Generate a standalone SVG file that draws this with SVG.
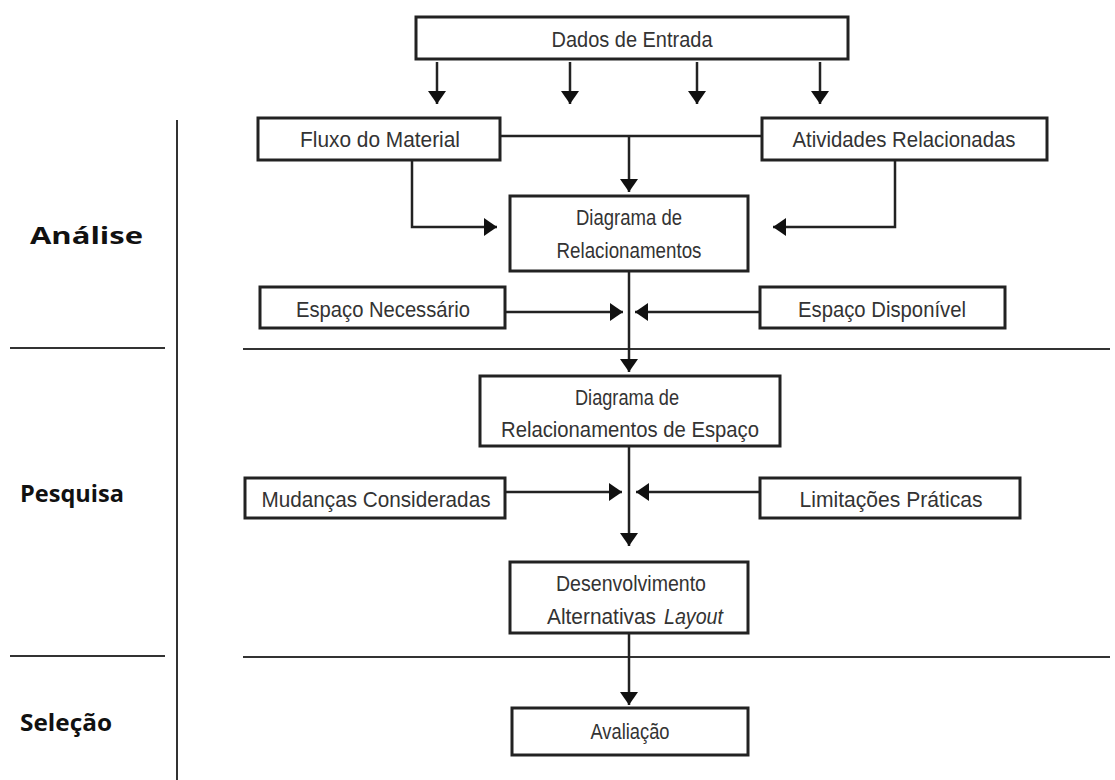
<svg xmlns="http://www.w3.org/2000/svg" width="1115" height="780" viewBox="0 0 1115 780">
<style>
.box{fill:#fff;stroke:#222;stroke-width:3}
.t{font-family:"Liberation Sans",Arial,sans-serif;font-size:22px;fill:#333;text-anchor:middle}
.s{text-anchor:start}
.c{fill:none;stroke:#222;stroke-width:2.5}
.sep{fill:none;stroke:#333;stroke-width:2}
.lab{font-family:"Open Sans","DejaVu Sans",sans-serif;font-weight:bold;font-size:23px;fill:#111}
</style>
<defs>
<marker id="ah" markerUnits="userSpaceOnUse" markerWidth="20" markerHeight="20" viewBox="0 0 20 20" refX="13" refY="10" orient="auto">
<path d="M0,1 L13,10 L0,19 Z" fill="#111"/>
</marker>
</defs>
<rect width="1115" height="780" fill="#fff"/>
<g id="phases">
<line class="sep" x1="177" y1="120" x2="177" y2="780"/>
<line class="sep" x1="10" y1="348" x2="165" y2="348"/>
<line class="sep" x1="243" y1="349" x2="1110" y2="349"/>
<line class="sep" x1="10" y1="656" x2="165" y2="656"/>
<line class="sep" x1="243" y1="657" x2="1110" y2="657"/>
<text class="lab" x="30" y="244" textLength="113" lengthAdjust="spacingAndGlyphs">Análise</text>
<text class="lab" x="20" y="502" textLength="104" lengthAdjust="spacingAndGlyphs">Pesquisa</text>
<text class="lab" x="20" y="731" textLength="92" lengthAdjust="spacingAndGlyphs">Seleção</text>
</g>
<g id="connectors">
<line class="c" x1="437" y1="62" x2="437" y2="104" marker-end="url(#ah)"/>
<line class="c" x1="570" y1="62" x2="570" y2="104" marker-end="url(#ah)"/>
<line class="c" x1="697" y1="62" x2="697" y2="104" marker-end="url(#ah)"/>
<line class="c" x1="820" y1="62" x2="820" y2="104" marker-end="url(#ah)"/>
<line class="c" x1="500" y1="136" x2="762" y2="136"/>
<line class="c" x1="629" y1="136" x2="629" y2="192" marker-end="url(#ah)"/>
<polyline class="c" points="412,160 412,227 497,227" marker-end="url(#ah)"/>
<polyline class="c" points="895,160 895,227 773,227" marker-end="url(#ah)"/>
<line class="c" x1="629" y1="271" x2="629" y2="372" marker-end="url(#ah)"/>
<line class="c" x1="505" y1="312" x2="623" y2="312" marker-end="url(#ah)"/>
<line class="c" x1="760" y1="312" x2="635" y2="312" marker-end="url(#ah)"/>
<line class="c" x1="629" y1="446" x2="629" y2="546" marker-end="url(#ah)"/>
<line class="c" x1="505" y1="492" x2="622" y2="492" marker-end="url(#ah)"/>
<line class="c" x1="760" y1="492" x2="636" y2="492" marker-end="url(#ah)"/>
<line class="c" x1="629" y1="633" x2="629" y2="705" marker-end="url(#ah)"/>
</g>
<g id="dados"><rect class="box" x="416" y="17" width="432" height="42"/><text class="t" x="632" y="47" textLength="161" lengthAdjust="spacingAndGlyphs">Dados de Entrada</text></g>
<g id="fluxo"><rect class="box" x="258" y="118" width="242" height="42"/><text class="t" x="380" y="147" textLength="160" lengthAdjust="spacingAndGlyphs">Fluxo do Material</text></g>
<g id="atividades"><rect class="box" x="762" y="118" width="285" height="42"/><text class="t" x="904" y="147" textLength="223" lengthAdjust="spacingAndGlyphs">Atividades Relacionadas</text></g>
<g id="diagrama-rel"><rect class="box" x="510" y="196" width="238" height="75"/><text class="t" x="629" y="225" textLength="106" lengthAdjust="spacingAndGlyphs">Diagrama de</text><text class="t" x="629" y="258" textLength="145" lengthAdjust="spacingAndGlyphs">Relacionamentos</text></g>
<g id="esp-nec"><rect class="box" x="260" y="287" width="245" height="41"/><text class="t" x="383" y="317" textLength="174" lengthAdjust="spacingAndGlyphs">Espaço Necessário</text></g>
<g id="esp-disp"><rect class="box" x="760" y="287" width="245" height="41"/><text class="t" x="882" y="317" textLength="168" lengthAdjust="spacingAndGlyphs">Espaço Disponível</text></g>
<g id="diagrama-esp"><rect class="box" x="480" y="376" width="300" height="70"/><text class="t" x="627" y="405" textLength="104" lengthAdjust="spacingAndGlyphs">Diagrama de</text><text class="t" x="630" y="437" textLength="258" lengthAdjust="spacingAndGlyphs">Relacionamentos de Espaço</text></g>
<g id="mudancas"><rect class="box" x="245" y="478" width="260" height="40"/><text class="t" x="376" y="507" textLength="229" lengthAdjust="spacingAndGlyphs">Mudanças Consideradas</text></g>
<g id="limitacoes"><rect class="box" x="760" y="478" width="260" height="40"/><text class="t" x="891" y="507" textLength="183" lengthAdjust="spacingAndGlyphs">Limitações Práticas</text></g>
<g id="desenvolvimento"><rect class="box" x="510" y="562" width="238" height="71"/><text class="t" x="631" y="591" textLength="150" lengthAdjust="spacingAndGlyphs">Desenvolvimento</text><text class="t s" x="547" y="624" textLength="109" lengthAdjust="spacingAndGlyphs">Alternativas</text><text class="t s" x="664" y="624" font-style="italic" textLength="59" lengthAdjust="spacingAndGlyphs">Layout</text></g>
<g id="avaliacao"><rect class="box" x="512" y="708" width="236" height="47"/><text class="t" x="630" y="739" textLength="79" lengthAdjust="spacingAndGlyphs">Avaliação</text></g>
</svg>
